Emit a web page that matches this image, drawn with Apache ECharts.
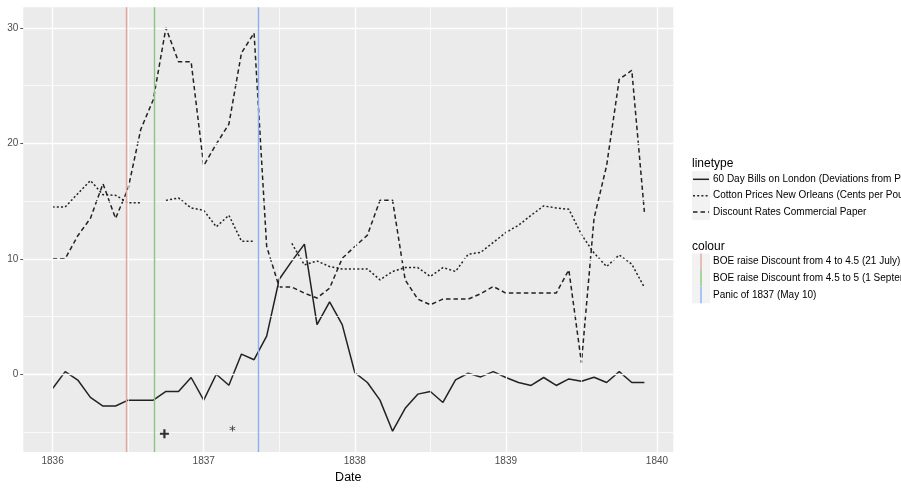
<!DOCTYPE html>
<html>
<head>
<meta charset="utf-8">
<script src="https://cdn.jsdelivr.net/npm/echarts@6/dist/echarts.min.js"></script>
<style>
  html, body { margin: 0; padding: 0; background: #fff; }
  #chart { width: 901px; height: 489px; }
</style>
</head>
<body>
<div id="chart"></div>
<script>
// monthly observations, Jan 1836 - Dec 1839
const startYear = 1836;
const monthCount = 48;
const months = [];
for (let i = 0; i < monthCount; i++) {
  months.push(startYear + Math.floor(i / 12) + '-' + String((i % 12) + 1).padStart(2, '0'));
}

// 60 Day Bills on London (Deviations from Par)
const bills = [
  -1.23, 0.23, -0.5, -2.0, -2.75, -2.75, -2.24, -2.24, -2.24, -1.49, -1.49, -0.28,
  -2.24, 0, -0.95, 1.75, 1.26, 3.3, 8.23, 9.8, 11.27, 4.3, 6.26, 4.3,
  0.15, -0.71, -2.24, -4.93, -2.95, -1.72, -1.49, -2.44, -0.48, 0.09, -0.23, 0.23,
  -0.28, -0.71, -0.97, -0.28, -0.97, -0.4, -0.6, -0.26, -0.71, 0.23, -0.71, -0.71,
];

// Cotton Prices New Orleans (Cents per Pound)
const cotton = [
  14.49, 14.49, 15.64, 16.78, 15.55, 15.5, 14.86, 14.86, null, 15.06, 15.27, 14.4,
  14.2, 12.77, 13.77, 11.53, 11.53, null, null, 11.33, 9.47, 9.81, 9.33, 9.12,
  9.12, 9.12, 8.18, 8.9, 9.24, 9.24, 8.47, 9.24, 8.9, 10.39, 10.56, 11.42,
  12.28, 12.9, 13.77, 14.58, 14.4, 14.29, 12.1, 10.5, 9.33, 10.33, 9.53, 7.52,
];

// Discount Rates Commercial Paper
const discount = [
  10, 10, 12, 13.5, 16.5, 13.5, 16.1, 21.2, 23.8, 30.0, 27.06, 27.06,
  18.07, 19.94, 21.66, 27.83, 29.55, 11.07, 7.55, 7.55, 7.03, 6.6, 7.46, 10.04,
  11.06, 12.05, 15.06, 15.06, 8.18, 6.51, 6.02, 6.51, 6.51, 6.51, 6.97, 7.6,
  7.03, 7.03, 7.03, 7.03, 7.03, 9.04, 1.0, 13.5, 18.07, 25.53, 26.33, 14.06,
];

const lineNames = [
  '60 Day Bills on London (Deviations from Par)',
  'Cotton Prices New Orleans (Cents per Pound)',
  'Discount Rates Commercial Paper',
];

// vertical event lines (decimal year)
const eventNames = [
  'BOE raise Discount from 4 to 4.5 (21 July)',
  'BOE raise Discount from 4.5 to 5 (1 September)',
  'Panic of 1837 (May 10)',
];
const eventDates = [1836.495, 1836.667, 1837.36];

// the two point markers
const plusPoint = [1836.74, -5.15];
const starPoint = [1837.19, -4.7];

const xTicks = [1836, 1837, 1838, 1839, 1840];
const xMinor = [1836.5, 1837.5, 1838.5, 1839.5];
const yTicks = [0, 10, 20, 30];
const yMinor = [-5, 5, 15, 25];

function decYear(m) {
  const parts = m.split('-');
  return +parts[0] + (+parts[1] - 1) / 12;
}
function pairs(values) {
  return months.map((m, i) => [decYear(m), values[i] == null ? '-' : values[i]]);
}

const font = 'Liberation Sans, Arial, Helvetica, sans-serif';
const ink = '#222';
const dashes = [null, [2, 2.2], [4.5, 3]];
const eventColors = ['#E2A59C', '#86C97E', '#8AB0F2'];
const seriesValues = [bills, cotton, discount];

const chart = echarts.init(document.getElementById('chart'), null, { renderer: 'canvas' });

// grid lines
const gridMarks = [];
yTicks.forEach(v => gridMarks.push({ yAxis: v, lineStyle: { color: '#fff', width: 1.3, type: 'solid' } }));
yMinor.forEach(v => gridMarks.push({ yAxis: v, lineStyle: { color: '#fff', width: 0.7, type: 'solid' } }));
xTicks.forEach(v => gridMarks.push({ xAxis: v, lineStyle: { color: '#fff', width: 1.3, type: 'solid' } }));
xMinor.forEach(v => gridMarks.push({ xAxis: v, lineStyle: { color: '#fff', width: 0.7, type: 'solid' } }));

const series = [
  {
    type: 'line',
    data: [],
    z: 1,
    silent: true,
    markLine: {
      silent: true,
      symbol: ['none', 'none'],
      label: { show: false },
      animation: false,
      data: gridMarks,
    },
  },
];

seriesValues.forEach((vals, k) => {
  series.push({
    name: lineNames[k],
    type: 'line',
    data: pairs(vals),
    z: 3,
    symbol: 'none',
    showSymbol: false,
    connectNulls: false,
    lineStyle: { color: ink, width: 1.5, type: dashes[k] || 'solid' },
  });
});

series.push({
  type: 'line',
  data: [],
  z: 4,
  silent: true,
  markLine: {
    silent: true,
    symbol: ['none', 'none'],
    label: { show: false },
    animation: false,
    data: eventDates.map((d, k) => ({ xAxis: d, lineStyle: { color: eventColors[k], width: 1.4, type: 'solid' } })),
  },
});

series.push({
  type: 'scatter',
  data: [plusPoint],
  z: 5,
  symbol: 'path://M3.4,0H5.6V3.4H9V5.6H5.6V9H3.4V5.6H0V3.4H3.4Z',
  symbolSize: 9,
  itemStyle: { color: '#000' },
});
series.push({
  type: 'scatter',
  data: [starPoint],
  z: 5,
  symbol: 'path://M4.4,0H5.6V10H4.4Z M0.97,1.98L9.63,6.98L9.03,8.02L0.37,3.02Z M0.37,6.98L9.03,1.98L9.63,3.02L0.97,8.02Z',
  symbolSize: 6,
  itemStyle: { color: '#000' },
});

// legend drawn by hand (ggplot style)
const graphic = [];
const keyX = 692, keyW = 18, textX = 713;
graphic.push({ type: 'text', style: { text: 'linetype', x: keyX, y: 164, font: '12px ' + font, fill: '#000', verticalAlign: 'middle' } });
const typeRows = [179.3, 195.7, 212];
graphic.push({ type: 'rect', shape: { x: keyX, y: typeRows[0] - 8.2, width: keyW, height: typeRows[2] - typeRows[0] + 16.4 }, style: { fill: '#F2F2F2' } });
lineNames.forEach((name, k) => {
  graphic.push({ type: 'line', shape: { x1: keyX + 1, y1: typeRows[k], x2: keyX + keyW - 1, y2: typeRows[k] }, style: { stroke: ink, lineWidth: 1.5, lineDash: dashes[k] } });
  graphic.push({ type: 'text', style: { text: name, x: textX, y: typeRows[k], font: '10px ' + font, fill: '#000', verticalAlign: 'middle' } });
});
graphic.push({ type: 'text', style: { text: 'colour', x: keyX, y: 246.7, font: '12px ' + font, fill: '#000', verticalAlign: 'middle' } });
const colRows = [261.7, 278.3, 295];
graphic.push({ type: 'rect', shape: { x: keyX, y: colRows[0] - 8.3, width: keyW, height: colRows[2] - colRows[0] + 16.6 }, style: { fill: '#F2F2F2' } });
eventNames.forEach((name, k) => {
  graphic.push({ type: 'line', shape: { x1: keyX + keyW / 2, y1: colRows[k] - 8.3, x2: keyX + keyW / 2, y2: colRows[k] + 8.3 }, style: { stroke: eventColors[k], lineWidth: 1.4 } });
  graphic.push({ type: 'text', style: { text: name, x: textX, y: colRows[k], font: '10px ' + font, fill: '#000', verticalAlign: 'middle' } });
});

chart.setOption({
  animation: false,
  backgroundColor: '#fff',
  grid: {
    left: 23.3,
    right: 227.7,
    top: 7.3,
    bottom: 34,
    show: true,
    backgroundColor: '#EBEBEB',
    borderWidth: 0,
  },
  xAxis: {
    type: 'value',
    min: 1835.806,
    max: 1840.108,
    name: 'Date',
    nameLocation: 'middle',
    nameGap: 14,
    nameTextStyle: { color: '#000', fontSize: 12.5, fontFamily: font },
    axisLine: { show: false },
    axisTick: { show: true, customValues: xTicks, length: 3, lineStyle: { color: '#555' } },
    axisLabel: { customValues: xTicks, formatter: v => String(v), color: '#4D4D4D', fontSize: 10, fontFamily: font, margin: 4 },
    splitLine: { show: false },
  },
  yAxis: {
    type: 'value',
    min: -6.74,
    max: 31.78,
    axisLine: { show: false },
    axisTick: { show: true, customValues: yTicks, length: 3, lineStyle: { color: '#555' } },
    axisLabel: { customValues: yTicks, formatter: v => String(v), color: '#4D4D4D', fontSize: 10, fontFamily: font, margin: 5 },
    splitLine: { show: false },
  },
  graphic: graphic,
  series: series,
});
</script>
</body>
</html>
